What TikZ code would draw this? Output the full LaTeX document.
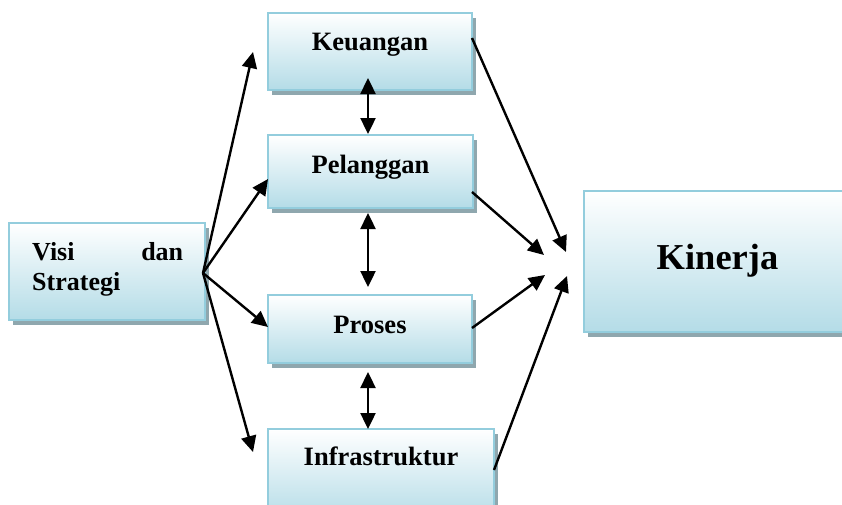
\documentclass[tikz,border=0pt]{standalone}
\usepackage{fontspec}
\setmainfont{Liberation Serif}
\usetikzlibrary{arrows.meta,shadows}
\definecolor{boxblue}{HTML}{B4DCE7}
\definecolor{boxline}{HTML}{93CDDD}
\definecolor{shadowc}{HTML}{8FA7AE}
\begin{document}
\begin{tikzpicture}[x=1pt,y=-1pt,
  box/.style={draw=boxline, line width=1.8pt, top color=white, bottom color=boxblue,
    inner sep=0pt, font=\bfseries\fontsize{26.5}{30}\selectfont,
    drop shadow={shadow xshift=4pt,shadow yshift=-5pt,fill=shadowc,opacity=1}},
  tip/.tip={Triangle[length=16pt,width=15pt]},
  arr/.style={line width=2.4pt, -tip},
  darr/.style={line width=2.4pt, tip-tip}]
\useasboundingbox (0,0) rectangle (842,504);

% boxes
\node[box, minimum width=196pt, minimum height=97pt] (visi) at (107,271.5) {};
\node[anchor=west, inner sep=0pt, align=left, font=\bfseries\fontsize{26}{30}\selectfont] (visitxt) at (32,269)
  {\makebox[151pt][l]{Visi\hfill dan}\\Strategi};
\node[box, anchor=base, minimum width=204pt, text height=37pt, text depth=40pt] (keu) at (370,50) {Keuangan};
\node[box, anchor=base, minimum width=205pt, text height=38pt, text depth=35pt] (pel) at (370.5,173) {Pelanggan};
\node[box, anchor=base, minimum width=204pt, text height=38pt, text depth=30pt] (pro) at (370,333) {Proses};
\node[box, anchor=base, minimum width=226pt, text height=36pt, text depth=55pt] (inf) at (381,465) {Infrastruktur};
\node[box, anchor=base, minimum width=267pt, text height=78pt, text depth=63pt,
  font=\bfseries\fontsize{36.5}{40}\selectfont] (kin) at (717.5,269) {Kinerja};

% connector ends
\coordinate (vo) at (203,273);
\coordinate (t1) at (253,52);
\coordinate (t2) at (268,179);
\coordinate (t3) at (268,327);
\coordinate (t4) at (253,452);
\coordinate (a1) at (368,78);  \coordinate (b1) at (368,134);
\coordinate (a2) at (368,213); \coordinate (b2) at (368,287);
\coordinate (a3) at (368,372); \coordinate (b3) at (368,429);
\coordinate (s1) at (472,38);  \coordinate (e1) at (566,252);
\coordinate (s2) at (472,192); \coordinate (e2) at (544,255);
\coordinate (s3) at (472,328); \coordinate (e3) at (545,275);
\coordinate (s4) at (494,470); \coordinate (e4) at (567,276);

% connectors
\draw[arr] (vo) -- (t1);
\draw[arr] (vo) -- (t2);
\draw[arr] (vo) -- (t3);
\draw[arr] (vo) -- (t4);
\draw[darr] (a1) -- (b1);
\draw[darr] (a2) -- (b2);
\draw[darr] (a3) -- (b3);
\draw[arr] (s1) -- (e1);
\draw[arr] (s2) -- (e2);
\draw[arr] (s3) -- (e3);
\draw[arr] (s4) -- (e4);
\end{tikzpicture}
\end{document}
